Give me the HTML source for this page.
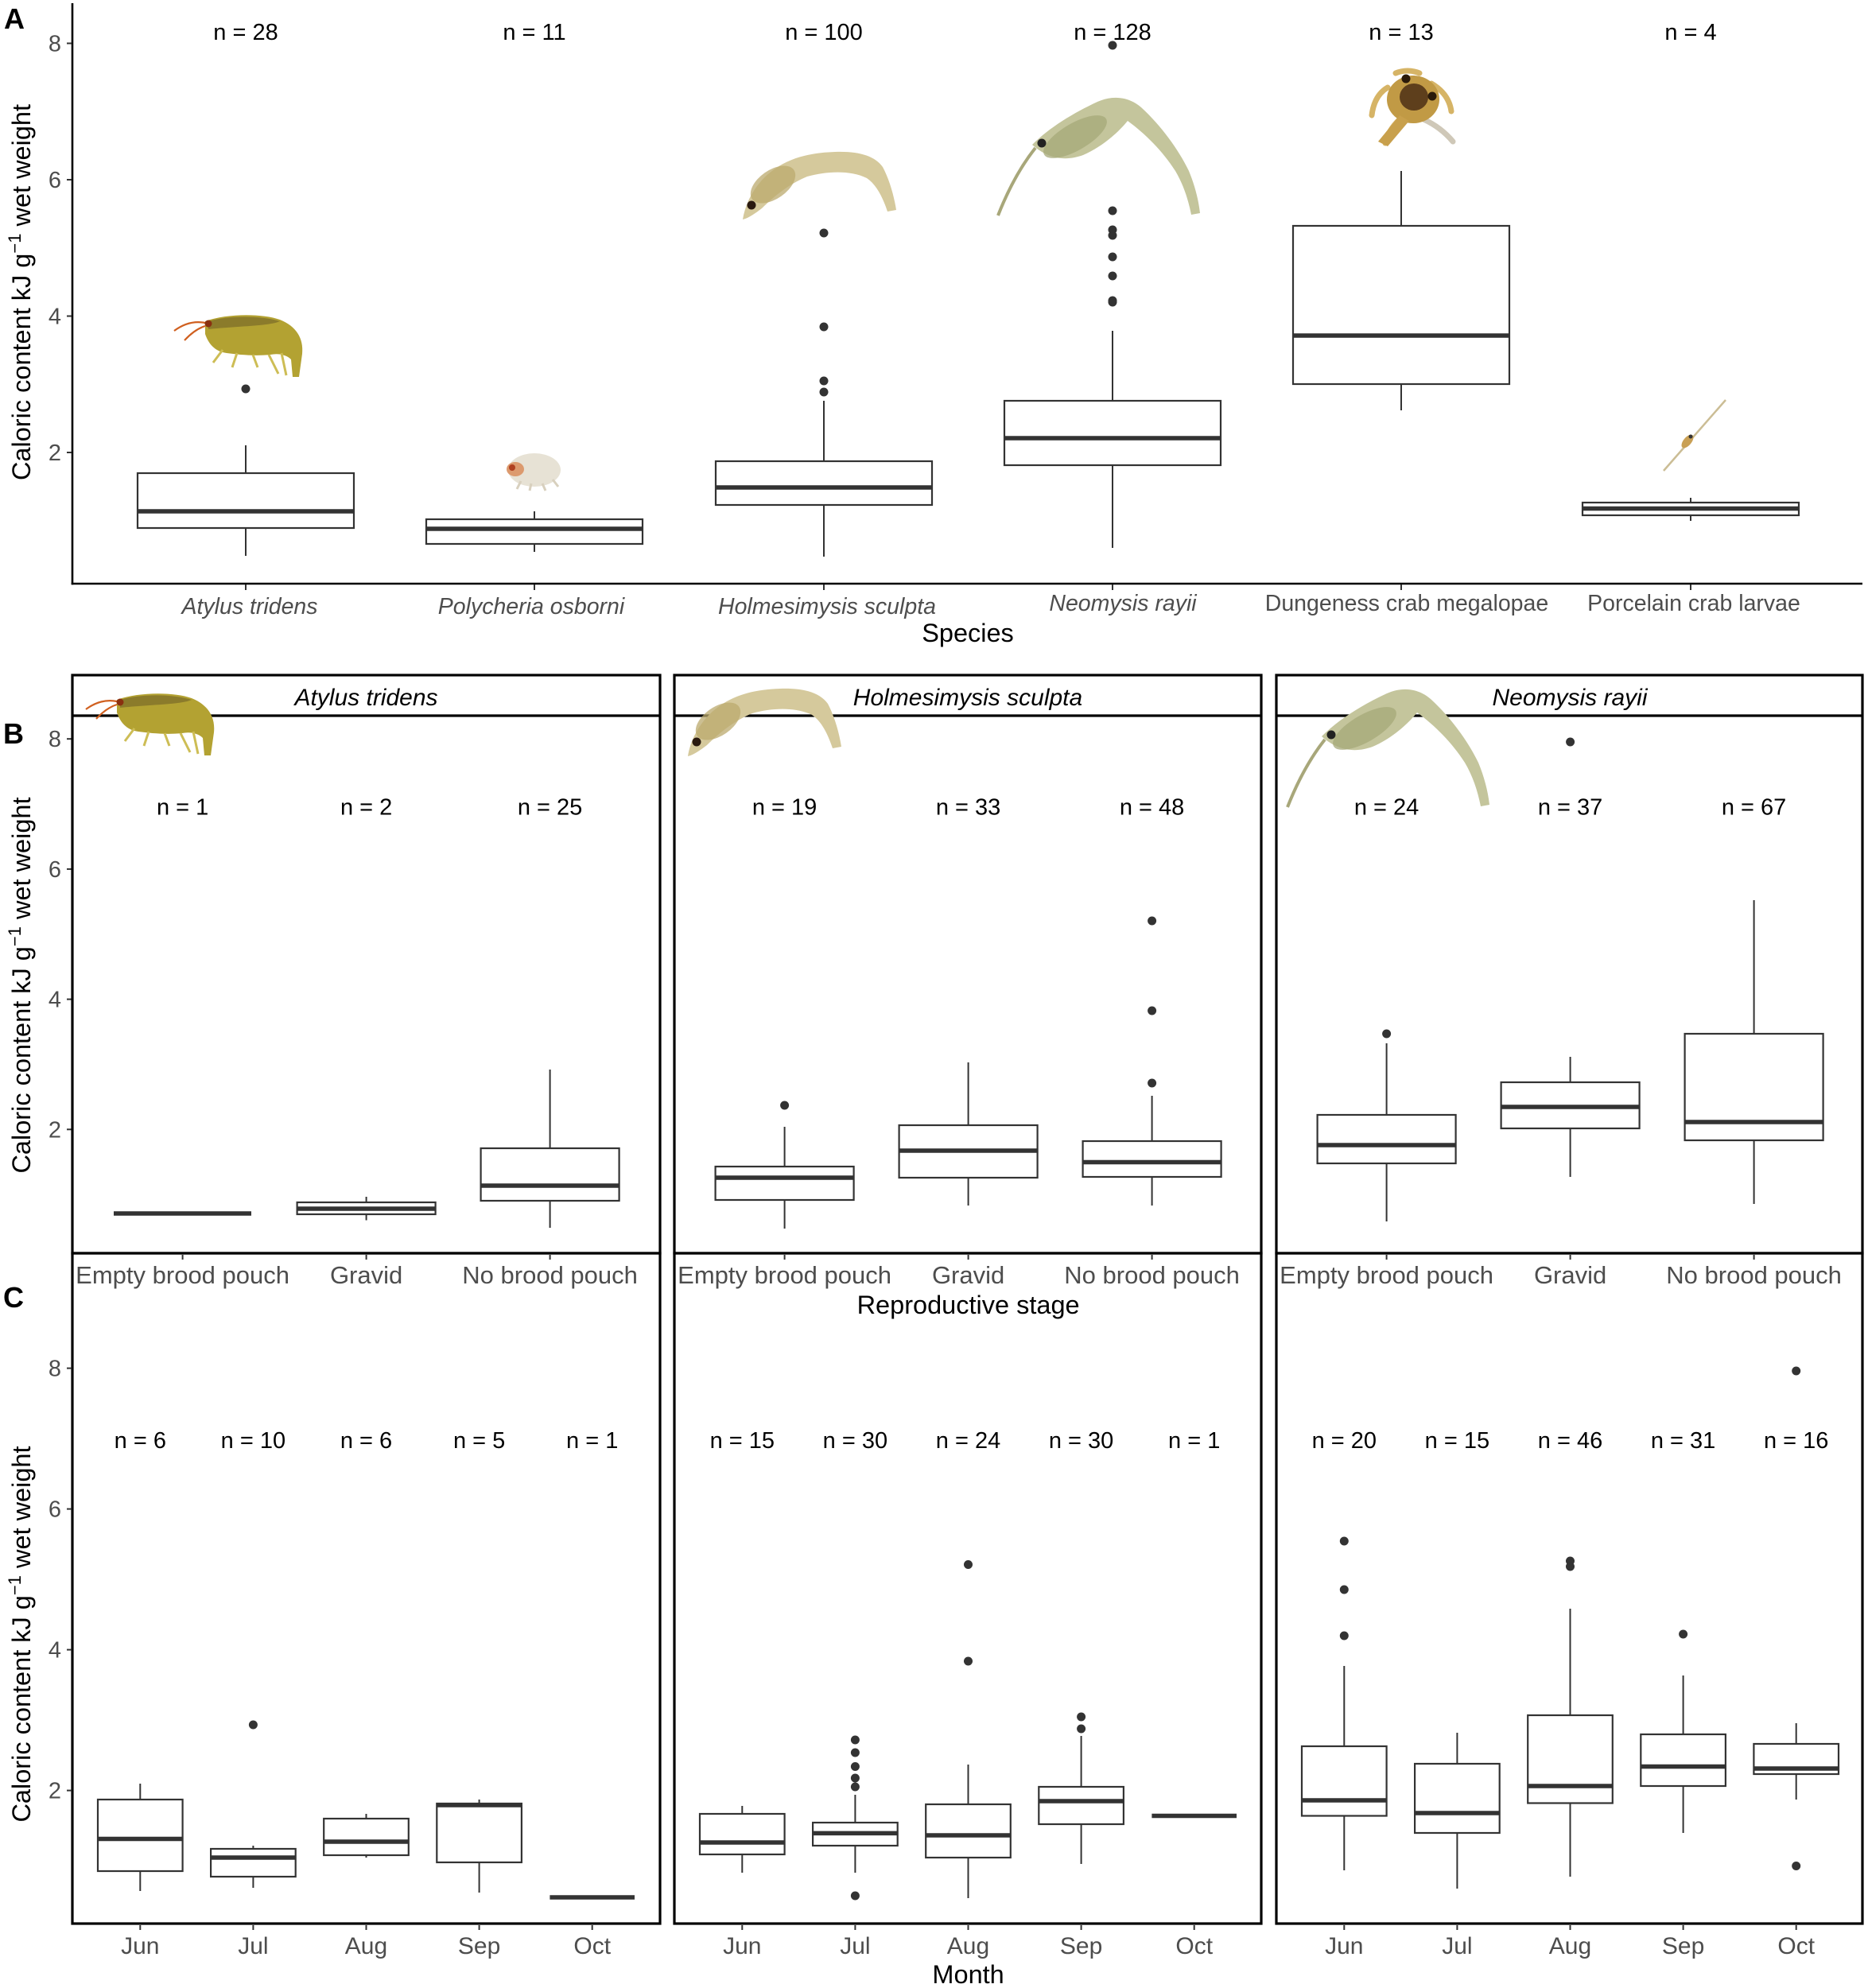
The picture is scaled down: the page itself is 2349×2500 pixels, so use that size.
<!DOCTYPE html>
<html><head><meta charset="utf-8">
<style>
html,body{margin:0;padding:0;background:#fff;width:2349px;height:2500px;overflow:hidden}
svg{display:block}
.w{stroke:#333;stroke-width:2;fill:none}
.b{fill:#fff;stroke:#333;stroke-width:2.2}
.m{stroke:#333;stroke-width:5.5}
.o{fill:#333}
.t{stroke:#333;stroke-width:2}
.fr{fill:none;stroke:#000;stroke-width:3.2}
text{font-family:"Liberation Sans",Arial,sans-serif}
.tl{font-size:29px;fill:#4d4d4d;text-anchor:end}
.n{font-size:29px;fill:#000;text-anchor:middle}
.xl{font-size:31px;fill:#4d4d4d;text-anchor:middle}
.ml{font-size:30px;fill:#4d4d4d;text-anchor:middle}
.sp{font-size:28.5px;fill:#4d4d4d;text-anchor:middle}
.ti{font-size:32.5px;fill:#000;text-anchor:middle}
.st{font-size:30px;fill:#000;text-anchor:middle;font-style:italic}
.pl{font-size:36px;font-weight:bold;fill:#000}
</style></head><body>
<svg width="2349" height="2500" viewBox="0 0 2349 2500" xmlns="http://www.w3.org/2000/svg">
<defs>
<g id="atylus">
<path d="M258 404 C285 394 330 394 352 402 C372 410 382 425 380 445 L376 474 L368 474 L366 452 C360 446 350 444 340 446 C320 448 300 446 285 444 C270 442 262 432 258 420 Z" fill="#b3a232"/>
<path d="M262 404 C290 396 330 397 352 404 C340 410 300 410 262 414 Z" fill="#7d6e2a" opacity="0.75"/>
<g stroke="#cdbd55" stroke-width="3" fill="none">
<line x1="280" y1="440" x2="268" y2="456"/><line x1="298" y1="444" x2="292" y2="462"/><line x1="318" y1="446" x2="324" y2="462"/><line x1="338" y1="446" x2="350" y2="470"/><line x1="354" y1="444" x2="360" y2="472"/></g>
<path d="M258 406 Q238 402 219 416 M258 410 Q245 414 232 428" stroke="#d06020" stroke-width="2.2" fill="none"/>
<circle cx="262" cy="407" r="4.5" fill="#8a3010"/>
</g>
<g id="holm">
<path d="M934 276 C938 250 955 225 975 212 C995 198 1020 192 1050 191 C1080 190 1100 196 1110 210 C1118 225 1124 245 1127 264 L1116 266 C1110 248 1102 232 1090 224 C1070 214 1040 215 1015 222 C995 230 975 245 958 262 C950 268 942 274 934 276 Z" fill="#d5c99c"/>
<ellipse cx="972" cy="232" rx="32" ry="18" transform="rotate(-35 972 232)" fill="#bba96e" opacity="0.75"/>
<circle cx="945" cy="258" r="5.5" fill="#2a1a10"/>
</g>
<g id="neo">
<path d="M1298 182 C1320 160 1350 142 1380 128 C1400 119 1420 122 1435 135 C1460 158 1482 188 1495 215 C1502 232 1507 250 1509 268 L1498 270 C1494 250 1488 232 1478 215 C1462 190 1440 168 1418 152 C1405 168 1385 185 1362 195 C1340 203 1318 200 1298 182 Z" fill="#c4c59c"/>
<ellipse cx="1352" cy="172" rx="45" ry="17" transform="rotate(-30 1352 172)" fill="#a6a878" opacity="0.75"/>
<circle cx="1310" cy="180" r="5.5" fill="#222"/>
<path d="M1302 186 Q1275 220 1255 271" stroke="#a8a77a" stroke-width="4" fill="none"/>
</g>
</defs>

<!-- ================= PANEL A ================= -->
<text class="pl" x="5" y="36">A</text>
<line x1="91" y1="4" x2="91" y2="735.2" stroke="#000" stroke-width="2.6"/>
<line x1="89.7" y1="734" x2="2342" y2="734" stroke="#000" stroke-width="2.6"/>
<g class="t">
<line x1="84" y1="54.5" x2="90" y2="54.5"/><line x1="84" y1="226" x2="90" y2="226"/><line x1="84" y1="397.5" x2="90" y2="397.5"/><line x1="84" y1="569" x2="90" y2="569"/>
<line x1="309" y1="735" x2="309" y2="742"/><line x1="672" y1="735" x2="672" y2="742"/><line x1="1036" y1="735" x2="1036" y2="742"/><line x1="1399" y1="735" x2="1399" y2="742"/><line x1="1762" y1="735" x2="1762" y2="742"/><line x1="2126" y1="735" x2="2126" y2="742"/>
</g>
<text class="tl" x="77" y="64.5">8</text><text class="tl" x="77" y="236">6</text><text class="tl" x="77" y="407.5">4</text><text class="tl" x="77" y="579">2</text>
<text class="ti" transform="translate(38,367.5) rotate(-90)">Caloric content kJ g<tspan dy="-12" font-size="22">−1</tspan><tspan dy="12"> wet weight</tspan></text>

<text class="n" x="309" y="50">n = 28</text><text class="n" x="672" y="50">n = 11</text><text class="n" x="1036" y="50">n = 100</text><text class="n" x="1399" y="50">n = 128</text><text class="n" x="1762" y="50">n = 13</text><text class="n" x="2126" y="50">n = 4</text>

<!-- critters A -->
<use href="#atylus"/>
<g>
<ellipse cx="672" cy="591" rx="33" ry="21" fill="#e7e2d5"/>
<g stroke="#d8d0be" stroke-width="3"><line x1="655" y1="605" x2="650" y2="615"/><line x1="668" y1="608" x2="666" y2="617"/><line x1="682" y1="608" x2="686" y2="617"/><line x1="695" y1="603" x2="702" y2="612"/></g>
<ellipse cx="648" cy="590" rx="11" ry="9" fill="#dc9a6e"/>
<circle cx="644" cy="588" r="4" fill="#b04020"/>
</g>
<use href="#holm"/>
<use href="#neo"/>
<g>
<path d="M1745 110 Q1728 120 1725 145 M1800 105 Q1822 118 1825 140 M1760 150 Q1745 165 1742 180 M1785 92 Q1770 86 1755 92" stroke="#d6b466" stroke-width="7" fill="none" stroke-linecap="round"/>
<path d="M1790 150 Q1812 160 1827 178" stroke="#cfc8b8" stroke-width="7" fill="none" stroke-linecap="round"/>
<ellipse cx="1777" cy="125" rx="33" ry="30" fill="#c19a45"/>
<ellipse cx="1778" cy="122" rx="18" ry="17" fill="#5e3f1c"/>
<path d="M1760 145 L1733 178 L1745 184 L1772 152 Z" fill="#c8a04c"/>
<circle cx="1768" cy="99" r="5.5" fill="#2a1a0a"/><circle cx="1801" cy="121" r="5.5" fill="#2a1a0a"/>
</g>
<g>
<line x1="2092" y1="592" x2="2170" y2="503" stroke="#cbbd95" stroke-width="2.5"/>
<ellipse cx="2122" cy="555" rx="10" ry="5" transform="rotate(-50 2122 555)" fill="#c9a055"/>
<circle cx="2126" cy="549" r="2.5" fill="#333"/>
</g>

<!-- boxes A -->
<g>
<line class="w" x1="309" y1="560" x2="309" y2="595"/><line class="w" x1="309" y1="664" x2="309" y2="699"/><rect class="b" x="173" y="595" width="272" height="69"/><line class="m" x1="173" y1="643" x2="445" y2="643"/><circle class="o" cx="309" cy="489" r="5.5"/>
<line class="w" x1="672" y1="643" x2="672" y2="653"/><line class="w" x1="672" y1="684" x2="672" y2="694"/><rect class="b" x="536" y="653" width="272" height="31"/><line class="m" x1="536" y1="665" x2="808" y2="665"/>
<line class="w" x1="1036" y1="504" x2="1036" y2="580"/><line class="w" x1="1036" y1="635" x2="1036" y2="700"/><rect class="b" x="900" y="580" width="272" height="55"/><line class="m" x1="900" y1="613" x2="1172" y2="613"/>
<circle class="o" cx="1036" cy="293" r="5.5"/><circle class="o" cx="1036" cy="411" r="5.5"/><circle class="o" cx="1036" cy="479" r="5.5"/><circle class="o" cx="1036" cy="493" r="5.5"/>
<line class="w" x1="1399" y1="416" x2="1399" y2="504"/><line class="w" x1="1399" y1="585" x2="1399" y2="689"/><rect class="b" x="1263" y="504" width="272" height="81"/><line class="m" x1="1263" y1="551" x2="1535" y2="551"/>
<circle class="o" cx="1399" cy="57" r="5.5"/><circle class="o" cx="1399" cy="265" r="5.5"/><circle class="o" cx="1399" cy="289" r="5.5"/><circle class="o" cx="1399" cy="296" r="5.5"/><circle class="o" cx="1399" cy="323" r="5.5"/><circle class="o" cx="1399" cy="347" r="5.5"/><circle class="o" cx="1399" cy="378" r="5.5"/><circle class="o" cx="1399" cy="380" r="5.5"/>
<line class="w" x1="1762" y1="215" x2="1762" y2="284"/><line class="w" x1="1762" y1="483" x2="1762" y2="516"/><rect class="b" x="1626" y="284" width="272" height="199"/><line class="m" x1="1626" y1="422" x2="1898" y2="422"/>
<line class="w" x1="2126" y1="626" x2="2126" y2="632"/><line class="w" x1="2126" y1="648" x2="2126" y2="655"/><rect class="b" x="1990" y="632" width="272" height="16"/><line class="m" x1="1990" y1="639.5" x2="2262" y2="639.5"/>
</g>

<text class="sp" font-style="italic" x="314" y="772">Atylus tridens</text>
<text class="sp" font-style="italic" x="668" y="772">Polycheria osborni</text>
<text class="sp" font-style="italic" x="1040" y="772">Holmesimysis sculpta</text>
<text class="sp" font-style="italic" x="1412" y="768">Neomysis rayii</text>
<text class="sp" x="1769" y="768">Dungeness crab megalopae</text>
<text class="sp" x="2130" y="768">Porcelain crab larvae</text>
<text class="ti" x="1217" y="807">Species</text>

<!-- ================= PANEL B ================= -->
<text class="pl" x="4" y="935">B</text>
<text class="ti" transform="translate(38,1239) rotate(-90)">Caloric content kJ g<tspan dy="-12" font-size="22">−1</tspan><tspan dy="12"> wet weight</tspan></text>
<g class="t">
<line x1="84" y1="929.2" x2="90" y2="929.2"/><line x1="84" y1="1092.9" x2="90" y2="1092.9"/><line x1="84" y1="1256.6" x2="90" y2="1256.6"/><line x1="84" y1="1420.3" x2="90" y2="1420.3"/>
</g>
<text class="tl" x="77" y="939">8</text><text class="tl" x="77" y="1103">6</text><text class="tl" x="77" y="1266.6">4</text><text class="tl" x="77" y="1430.3">2</text>

<!-- frames B -->
<rect class="fr" x="91" y="849" width="739" height="727" fill="#fff"/><line class="fr" x1="91" y1="900" x2="830" y2="900"/>
<rect class="fr" x="848" y="849" width="738" height="727" fill="#fff"/><line class="fr" x1="848" y1="900" x2="1586" y2="900"/>
<rect class="fr" x="1605" y="849" width="737" height="727" fill="#fff"/><line class="fr" x1="1605" y1="900" x2="2342" y2="900"/>
<text class="st" x="460.5" y="887">Atylus tridens</text>
<text class="st" x="1217" y="887">Holmesimysis sculpta</text>
<text class="st" x="1974" y="887">Neomysis rayii</text>

<!-- frames C -->
<rect class="fr" x="91" y="1576" width="739" height="843"/>
<rect class="fr" x="848" y="1576" width="738" height="843"/>
<rect class="fr" x="1605" y="1576" width="737" height="843"/>

<!-- B ticks x -->
<g class="t">
<line x1="229.6" y1="1578" x2="229.6" y2="1584"/><line x1="460.6" y1="1578" x2="460.6" y2="1584"/><line x1="691.6" y1="1578" x2="691.6" y2="1584"/>
<line x1="986.6" y1="1578" x2="986.6" y2="1584"/><line x1="1217.6" y1="1578" x2="1217.6" y2="1584"/><line x1="1448.6" y1="1578" x2="1448.6" y2="1584"/>
<line x1="1743.6" y1="1578" x2="1743.6" y2="1584"/><line x1="1974.6" y1="1578" x2="1974.6" y2="1584"/><line x1="2205.6" y1="1578" x2="2205.6" y2="1584"/>
</g>

<!-- B n labels -->
<text class="n" x="229.6" y="1024.5">n = 1</text><text class="n" x="460.6" y="1024.5">n = 2</text><text class="n" x="691.6" y="1024.5">n = 25</text>
<text class="n" x="986.6" y="1024.5">n = 19</text><text class="n" x="1217.6" y="1024.5">n = 33</text><text class="n" x="1448.6" y="1024.5">n = 48</text>
<text class="n" x="1743.6" y="1024.5">n = 24</text><text class="n" x="1974.6" y="1024.5">n = 37</text><text class="n" x="2205.6" y="1024.5">n = 67</text>

<!-- B boxes -->
<g>
<line class="m" x1="143" y1="1526" x2="316" y2="1526" stroke-width="6"/>
<line class="w" x1="460.6" y1="1505" x2="460.6" y2="1512"/><line class="w" x1="460.6" y1="1527" x2="460.6" y2="1534.5"/><rect class="b" x="373.6" y="1512" width="174" height="15"/><line class="m" x1="373.6" y1="1520" x2="547.6" y2="1520"/>
<line class="w" x1="691.6" y1="1345" x2="691.6" y2="1444"/><line class="w" x1="691.6" y1="1510" x2="691.6" y2="1544"/><rect class="b" x="604.6" y="1444" width="174" height="66"/><line class="m" x1="604.6" y1="1491" x2="778.6" y2="1491"/>

<line class="w" x1="986.6" y1="1417" x2="986.6" y2="1467"/><line class="w" x1="986.6" y1="1509" x2="986.6" y2="1545"/><rect class="b" x="899.6" y="1467" width="174" height="42"/><line class="m" x1="899.6" y1="1481" x2="1073.6" y2="1481"/><circle class="o" cx="986.6" cy="1390" r="5.5"/>
<line class="w" x1="1217.6" y1="1336" x2="1217.6" y2="1415"/><line class="w" x1="1217.6" y1="1481" x2="1217.6" y2="1516"/><rect class="b" x="1130.6" y="1415" width="174" height="66"/><line class="m" x1="1130.6" y1="1447" x2="1304.6" y2="1447"/>
<line class="w" x1="1448.6" y1="1378" x2="1448.6" y2="1435"/><line class="w" x1="1448.6" y1="1480" x2="1448.6" y2="1516"/><rect class="b" x="1361.6" y="1435" width="174" height="45"/><line class="m" x1="1361.6" y1="1461.5" x2="1535.6" y2="1461.5"/>
<circle class="o" cx="1448.6" cy="1158" r="5.5"/><circle class="o" cx="1448.6" cy="1271" r="5.5"/><circle class="o" cx="1448.6" cy="1362" r="5.5"/>

<line class="w" x1="1743.6" y1="1312" x2="1743.6" y2="1402"/><line class="w" x1="1743.6" y1="1463" x2="1743.6" y2="1536"/><rect class="b" x="1656.6" y="1402" width="174" height="61"/><line class="m" x1="1656.6" y1="1440" x2="1830.6" y2="1440"/><circle class="o" cx="1743.6" cy="1300" r="5.5"/>
<line class="w" x1="1974.6" y1="1329" x2="1974.6" y2="1361"/><line class="w" x1="1974.6" y1="1419" x2="1974.6" y2="1480"/><rect class="b" x="1887.6" y="1361" width="174" height="58"/><line class="m" x1="1887.6" y1="1392" x2="2061.6" y2="1392"/><circle class="o" cx="1974.6" cy="933" r="5.5"/>
<line class="w" x1="2205.6" y1="1132" x2="2205.6" y2="1300"/><line class="w" x1="2205.6" y1="1434" x2="2205.6" y2="1514"/><rect class="b" x="2118.6" y="1300" width="174" height="134"/><line class="m" x1="2118.6" y1="1411" x2="2292.6" y2="1411"/>
</g>

<!-- critters B -->
<use href="#atylus" transform="translate(-111,476)"/>
<use href="#holm" transform="translate(-69,675)"/>
<use href="#neo" transform="translate(364,744)"/>

<!-- B x labels -->
<text class="xl" x="229.6" y="1614">Empty brood pouch</text><text class="xl" x="460.6" y="1614">Gravid</text><text class="xl" x="691.6" y="1614">No brood pouch</text>
<text class="xl" x="986.6" y="1614">Empty brood pouch</text><text class="xl" x="1217.6" y="1614">Gravid</text><text class="xl" x="1448.6" y="1614">No brood pouch</text>
<text class="xl" x="1743.6" y="1614">Empty brood pouch</text><text class="xl" x="1974.6" y="1614">Gravid</text><text class="xl" x="2205.6" y="1614">No brood pouch</text>
<text class="ti" x="1217.6" y="1652">Reproductive stage</text>

<!-- ================= PANEL C ================= -->
<text class="pl" x="4" y="1644">C</text>
<text class="ti" transform="translate(38,2055) rotate(-90)">Caloric content kJ g<tspan dy="-12" font-size="22">−1</tspan><tspan dy="12"> wet weight</tspan></text>
<g class="t">
<line x1="84" y1="1720.6" x2="90" y2="1720.6"/><line x1="84" y1="1897.6" x2="90" y2="1897.6"/><line x1="84" y1="2074.6" x2="90" y2="2074.6"/><line x1="84" y1="2251.6" x2="90" y2="2251.6"/>
</g>
<text class="tl" x="77" y="1730.6">8</text><text class="tl" x="77" y="1907.6">6</text><text class="tl" x="77" y="2084.6">4</text><text class="tl" x="77" y="2261.6">2</text>

<g class="t">
<line x1="176.3" y1="2421" x2="176.3" y2="2427"/><line x1="318.4" y1="2421" x2="318.4" y2="2427"/><line x1="460.5" y1="2421" x2="460.5" y2="2427"/><line x1="602.6" y1="2421" x2="602.6" y2="2427"/><line x1="744.7" y1="2421" x2="744.7" y2="2427"/>
<line x1="933.3" y1="2421" x2="933.3" y2="2427"/><line x1="1075.4" y1="2421" x2="1075.4" y2="2427"/><line x1="1217.5" y1="2421" x2="1217.5" y2="2427"/><line x1="1359.6" y1="2421" x2="1359.6" y2="2427"/><line x1="1501.7" y1="2421" x2="1501.7" y2="2427"/>
<line x1="1690.3" y1="2421" x2="1690.3" y2="2427"/><line x1="1832.4" y1="2421" x2="1832.4" y2="2427"/><line x1="1974.5" y1="2421" x2="1974.5" y2="2427"/><line x1="2116.6" y1="2421" x2="2116.6" y2="2427"/><line x1="2258.7" y1="2421" x2="2258.7" y2="2427"/>
</g>

<text class="n" x="176.3" y="1821">n = 6</text><text class="n" x="318.4" y="1821">n = 10</text><text class="n" x="460.5" y="1821">n = 6</text><text class="n" x="602.6" y="1821">n = 5</text><text class="n" x="744.7" y="1821">n = 1</text>
<text class="n" x="933.3" y="1821">n = 15</text><text class="n" x="1075.4" y="1821">n = 30</text><text class="n" x="1217.5" y="1821">n = 24</text><text class="n" x="1359.6" y="1821">n = 30</text><text class="n" x="1501.7" y="1821">n = 1</text>
<text class="n" x="1690.3" y="1821">n = 20</text><text class="n" x="1832.4" y="1821">n = 15</text><text class="n" x="1974.5" y="1821">n = 46</text><text class="n" x="2116.6" y="1821">n = 31</text><text class="n" x="2258.7" y="1821">n = 16</text>

<!-- C boxes facet 1 -->
<g>
<line class="w" x1="176.3" y1="2243" x2="176.3" y2="2263"/><line class="w" x1="176.3" y1="2353" x2="176.3" y2="2378"/><rect class="b" x="123" y="2263" width="106.6" height="90"/><line class="m" x1="123" y1="2312.5" x2="229.6" y2="2312.5"/>
<line class="w" x1="318.4" y1="2321" x2="318.4" y2="2325"/><line class="w" x1="318.4" y1="2360" x2="318.4" y2="2374"/><rect class="b" x="265.1" y="2325" width="106.6" height="35"/><line class="m" x1="265.1" y1="2336" x2="371.7" y2="2336"/><circle class="o" cx="318.4" cy="2169" r="5.5"/>
<line class="w" x1="460.5" y1="2281" x2="460.5" y2="2287"/><line class="w" x1="460.5" y1="2333" x2="460.5" y2="2336"/><rect class="b" x="407.2" y="2287" width="106.6" height="46"/><line class="m" x1="407.2" y1="2316" x2="513.8" y2="2316"/>
<line class="w" x1="602.6" y1="2263" x2="602.6" y2="2268"/><line class="w" x1="602.6" y1="2342" x2="602.6" y2="2380"/><rect class="b" x="549.3" y="2268" width="106.6" height="74"/><line class="m" x1="549.3" y1="2270" x2="655.9" y2="2270"/>
<line class="m" x1="691.4" y1="2386" x2="798" y2="2386" stroke-width="6"/>
</g>
<!-- C boxes facet 2 -->
<g>
<line class="w" x1="933.3" y1="2271" x2="933.3" y2="2281"/><line class="w" x1="933.3" y1="2332" x2="933.3" y2="2355"/><rect class="b" x="880" y="2281" width="106.6" height="51"/><line class="m" x1="880" y1="2317" x2="986.6" y2="2317"/>
<line class="w" x1="1075.4" y1="2257" x2="1075.4" y2="2292"/><line class="w" x1="1075.4" y1="2321" x2="1075.4" y2="2355"/><rect class="b" x="1022.1" y="2292" width="106.6" height="29"/><line class="m" x1="1022.1" y1="2305.4" x2="1128.7" y2="2305.4"/>
<circle class="o" cx="1075.4" cy="2188" r="5.5"/><circle class="o" cx="1075.4" cy="2204" r="5.5"/><circle class="o" cx="1075.4" cy="2221.5" r="5.5"/><circle class="o" cx="1075.4" cy="2236" r="5.5"/><circle class="o" cx="1075.4" cy="2247" r="5.5"/><circle class="o" cx="1075.4" cy="2384" r="5.5"/>
<line class="w" x1="1217.5" y1="2219" x2="1217.5" y2="2269"/><line class="w" x1="1217.5" y1="2336" x2="1217.5" y2="2387"/><rect class="b" x="1164.2" y="2269" width="106.6" height="67"/><line class="m" x1="1164.2" y1="2308" x2="1270.8" y2="2308"/>
<circle class="o" cx="1217.5" cy="1967.5" r="5.5"/><circle class="o" cx="1217.5" cy="2089" r="5.5"/>
<line class="w" x1="1359.6" y1="2183" x2="1359.6" y2="2247"/><line class="w" x1="1359.6" y1="2294" x2="1359.6" y2="2344"/><rect class="b" x="1306.3" y="2247" width="106.6" height="47"/><line class="m" x1="1306.3" y1="2265" x2="1412.9" y2="2265"/>
<circle class="o" cx="1359.6" cy="2159" r="5.5"/><circle class="o" cx="1359.6" cy="2174" r="5.5"/>
<line class="m" x1="1448.4" y1="2283.5" x2="1555" y2="2283.5" stroke-width="6"/>
</g>
<!-- C boxes facet 3 -->
<g>
<line class="w" x1="1690.3" y1="2095" x2="1690.3" y2="2196"/><line class="w" x1="1690.3" y1="2283.5" x2="1690.3" y2="2352"/><rect class="b" x="1637" y="2196" width="106.6" height="87.5"/><line class="m" x1="1637" y1="2264" x2="1743.6" y2="2264"/>
<circle class="o" cx="1690.3" cy="1938" r="5.5"/><circle class="o" cx="1690.3" cy="1999" r="5.5"/><circle class="o" cx="1690.3" cy="2057" r="5.5"/>
<line class="w" x1="1832.4" y1="2179" x2="1832.4" y2="2218"/><line class="w" x1="1832.4" y1="2305" x2="1832.4" y2="2375"/><rect class="b" x="1779.1" y="2218" width="106.6" height="87"/><line class="m" x1="1779.1" y1="2280" x2="1885.7" y2="2280"/>
<line class="w" x1="1974.5" y1="2023" x2="1974.5" y2="2157"/><line class="w" x1="1974.5" y1="2267.5" x2="1974.5" y2="2360"/><rect class="b" x="1921.2" y="2157" width="106.6" height="110.5"/><line class="m" x1="1921.2" y1="2246" x2="2027.8" y2="2246"/>
<circle class="o" cx="1974.5" cy="1963" r="5.5"/><circle class="o" cx="1974.5" cy="1970" r="5.5"/>
<line class="w" x1="2116.6" y1="2107" x2="2116.6" y2="2181"/><line class="w" x1="2116.6" y1="2246" x2="2116.6" y2="2305"/><rect class="b" x="2063.3" y="2181" width="106.6" height="65"/><line class="m" x1="2063.3" y1="2221.5" x2="2169.9" y2="2221.5"/>
<circle class="o" cx="2116.6" cy="2055" r="5.5"/>
<line class="w" x1="2258.7" y1="2167" x2="2258.7" y2="2193"/><line class="w" x1="2258.7" y1="2231" x2="2258.7" y2="2263"/><rect class="b" x="2205.4" y="2193" width="106.6" height="38"/><line class="m" x1="2205.4" y1="2224" x2="2312" y2="2224"/>
<circle class="o" cx="2258.7" cy="1724" r="5.5"/><circle class="o" cx="2258.7" cy="2346.5" r="5.5"/>
</g>

<!-- month labels -->
<text class="ml" x="176.3" y="2457">Jun</text><text class="ml" x="318.4" y="2457">Jul</text><text class="ml" x="460.5" y="2457">Aug</text><text class="ml" x="602.6" y="2457">Sep</text><text class="ml" x="744.7" y="2457">Oct</text>
<text class="ml" x="933.3" y="2457">Jun</text><text class="ml" x="1075.4" y="2457">Jul</text><text class="ml" x="1217.5" y="2457">Aug</text><text class="ml" x="1359.6" y="2457">Sep</text><text class="ml" x="1501.7" y="2457">Oct</text>
<text class="ml" x="1690.3" y="2457">Jun</text><text class="ml" x="1832.4" y="2457">Jul</text><text class="ml" x="1974.5" y="2457">Aug</text><text class="ml" x="2116.6" y="2457">Sep</text><text class="ml" x="2258.7" y="2457">Oct</text>
<text class="ti" x="1217.6" y="2494">Month</text>
</svg>
</body></html>
